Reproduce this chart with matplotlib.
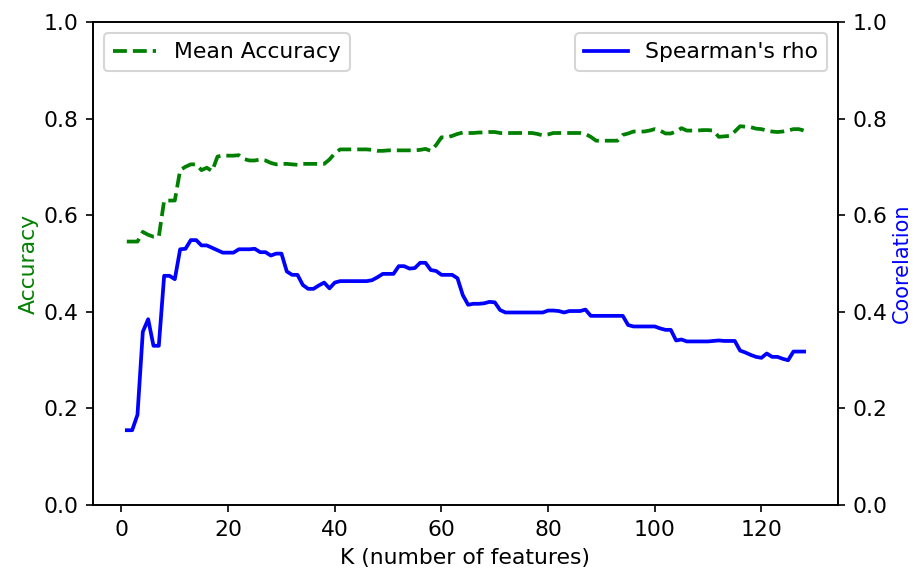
import numpy as np
import matplotlib
matplotlib.use("Agg")
import matplotlib.pyplot as plt


# number of selected features
k = np.arange(1, 129)

# mean classification accuracy for each K
accuracy = [
    0.546, 0.546, 0.546, 0.566, 0.560, 0.556, 0.556, 0.631, 0.631, 0.631,
    0.694, 0.701, 0.706, 0.706, 0.694, 0.699, 0.692, 0.722, 0.725, 0.724,
    0.724, 0.725, 0.717, 0.714, 0.714, 0.716, 0.714, 0.709, 0.706, 0.707,
    0.707, 0.706, 0.705, 0.707, 0.707, 0.707, 0.707, 0.707, 0.716, 0.729,
    0.737, 0.737, 0.737, 0.737, 0.737, 0.737, 0.736, 0.734, 0.734, 0.735,
    0.735, 0.735, 0.735, 0.735, 0.735, 0.736, 0.738, 0.734, 0.746, 0.762,
    0.762, 0.765, 0.769, 0.772, 0.771, 0.771, 0.772, 0.772, 0.773, 0.773,
    0.771, 0.770, 0.771, 0.771, 0.771, 0.771, 0.771, 0.769, 0.766, 0.768,
    0.771, 0.771, 0.771, 0.771, 0.771, 0.771, 0.769, 0.763, 0.755, 0.755,
    0.755, 0.755, 0.755, 0.767, 0.770, 0.774, 0.774, 0.774, 0.776, 0.779,
    0.776, 0.770, 0.770, 0.774, 0.781, 0.776, 0.776, 0.776, 0.777, 0.777,
    0.776, 0.763, 0.764, 0.765, 0.774, 0.785, 0.784, 0.783, 0.780, 0.779,
    0.776, 0.774, 0.773, 0.774, 0.776, 0.779, 0.779, 0.776,
]

# Spearman rank correlation for each K
spearman = [
    0.155, 0.155, 0.187, 0.359, 0.385, 0.330, 0.330, 0.475, 0.475, 0.468,
    0.530, 0.531, 0.549, 0.549, 0.538, 0.538, 0.533, 0.528, 0.523, 0.523,
    0.523, 0.530, 0.530, 0.530, 0.531, 0.524, 0.524, 0.517, 0.521, 0.521,
    0.484, 0.477, 0.477, 0.456, 0.448, 0.448, 0.455, 0.461, 0.449, 0.461,
    0.464, 0.464, 0.464, 0.464, 0.464, 0.464, 0.466, 0.472, 0.479, 0.479,
    0.479, 0.495, 0.495, 0.490, 0.491, 0.502, 0.502, 0.487, 0.485, 0.477,
    0.477, 0.477, 0.470, 0.435, 0.415, 0.417, 0.417, 0.418, 0.421, 0.420,
    0.404, 0.399, 0.399, 0.399, 0.399, 0.399, 0.399, 0.399, 0.399, 0.403,
    0.403, 0.402, 0.399, 0.402, 0.402, 0.402, 0.405, 0.392, 0.392, 0.392,
    0.392, 0.392, 0.392, 0.392, 0.373, 0.370, 0.370, 0.370, 0.370, 0.370,
    0.366, 0.363, 0.363, 0.341, 0.343, 0.339, 0.339, 0.339, 0.339, 0.339,
    0.340, 0.341, 0.340, 0.340, 0.340, 0.320, 0.316, 0.311, 0.307, 0.305,
    0.314, 0.307, 0.307, 0.303, 0.300, 0.318, 0.318, 0.318,
]

plt.rcParams['font.size'] = 10.5
plt.rcParams['lines.linewidth'] = 1.8

my_dpi = 150.
fig = plt.figure(figsize=(914 / my_dpi, 571 / my_dpi), dpi=my_dpi)
ax = fig.add_subplot(111)
fig.subplots_adjust(left=0.1017, right=0.9168, bottom=0.1156, top=0.9606)

ax.plot(k, accuracy, 'g--', label='Mean Accuracy')
ax.set_ylim(0, 1)
ax.set_xlabel('K (number of features)')
ax.set_ylabel('Accuracy', color='g', labelpad=2)
ax.legend(loc='upper left')

ax2 = ax.twinx()
ax2.plot(k, spearman, 'b-', label="Spearman's rho")
ax2.set_ylim(0, 1)
ax2.set_ylabel('Coorelation', color='b', labelpad=2, fontsize=10)
ax2.legend(loc='upper right')

fig.savefig("out.png", dpi=my_dpi)
